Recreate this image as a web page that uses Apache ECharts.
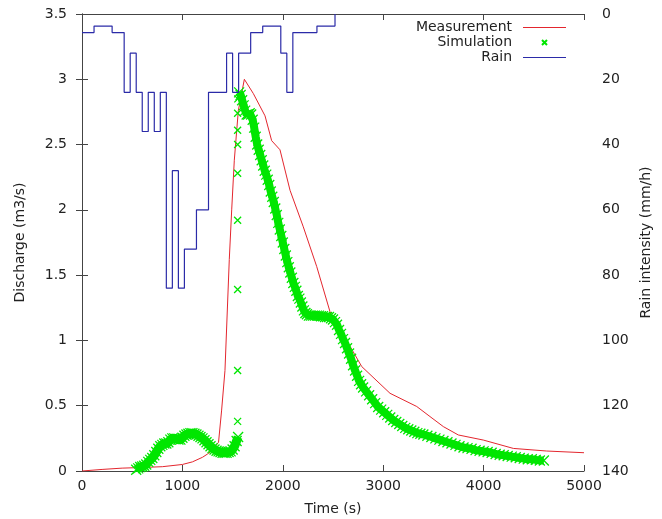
<!DOCTYPE html>
<html>
<head>
<meta charset="utf-8">
<script src="https://cdn.jsdelivr.net/npm/echarts@6/dist/echarts.min.js"></script>
<style>
  html, body { margin: 0; padding: 0; background: #fff; }
  #chart { width: 662px; height: 519px; }
</style>
</head>
<body>
<div id="chart"></div>
<script>
// measured discharge (m3/s)
var measTime = [0, 200, 400, 600, 800, 1000, 1100, 1200, 1250, 1300, 1360, 1390, 1424, 1467, 1491, 1517, 1557, 1617,
    1707, 1823, 1889, 1972, 2072, 2204, 2338, 2470, 2786, 3068, 3334, 3466, 3599, 3748, 3997, 4296, 4628, 5000];
var measFlow = [0, 0.012, 0.022, 0.027, 0.033, 0.05, 0.07, 0.105, 0.13, 0.16, 0.22, 0.46, 0.77, 1.62, 2.0, 2.38, 2.76, 3.0,
    2.89, 2.72, 2.53, 2.46, 2.15, 1.87, 1.565, 1.22, 0.80, 0.595, 0.494, 0.417, 0.34, 0.276, 0.237, 0.173, 0.153, 0.14];

// simulated discharge (m3/s), before the jump
var simEarlyTime = [540, 560, 580, 600, 620, 640, 660, 680, 700, 720, 740, 760, 780, 800, 820, 840, 860, 880, 900, 920,
    940, 960, 980, 1000, 1020, 1040, 1060, 1080, 1100, 1120, 1140, 1160, 1180, 1200, 1220, 1240, 1260, 1280, 1300,
    1320, 1340, 1360, 1380, 1400, 1420, 1440, 1460, 1480, 1500, 1520, 1540, 1555];
var simEarlyFlow = [0.01, 0.02, 0.03, 0.035, 0.04, 0.05, 0.07, 0.085, 0.10, 0.12, 0.145, 0.17, 0.19, 0.2, 0.21, 0.21,
    0.22, 0.24, 0.25, 0.25, 0.245, 0.24, 0.24, 0.255, 0.27, 0.28, 0.285, 0.29, 0.29, 0.285, 0.28, 0.27, 0.26, 0.25,
    0.235, 0.22, 0.205, 0.19, 0.175, 0.165, 0.155, 0.15, 0.145, 0.14, 0.14, 0.14, 0.145, 0.15, 0.165, 0.19, 0.23, 0.26];

// simulated discharge, isolated points of the jump
var simJumpTime = [1550, 1550, 1550, 1550, 1550, 1550, 1550, 1550, 1552];
var simJumpFlow = [0.38, 0.77, 1.39, 1.92, 2.28, 2.5, 2.61, 2.74, 2.85];

// simulated discharge, after the jump
var simLateTime = [1565, 1580, 1595, 1610, 1625, 1640, 1655, 1670, 1685, 1700, 1715, 1730, 1745, 1760, 1775, 1790,
    1805, 1820, 1835, 1850, 1865, 1880, 1895, 1910, 1925, 1940, 1955, 1970, 1985, 2000, 2015, 2030, 2045, 2060, 2075,
    2090, 2105, 2120, 2135, 2150, 2165, 2180, 2195, 2210, 2225, 2240, 2260, 2280, 2300, 2320, 2340, 2360, 2380, 2400,
    2420, 2440, 2460, 2480, 2500, 2520, 2540, 2560, 2580, 2600, 2620, 2640, 2660, 2680, 2700, 2720, 2740, 2760, 2780,
    2800, 2830, 2860, 2890, 2920, 2950, 2980, 3010, 3040, 3070, 3100, 3130, 3160, 3190, 3220, 3250, 3280, 3310, 3340,
    3370, 3400, 3440, 3480, 3520, 3560, 3600, 3640, 3680, 3720, 3760, 3800, 3840, 3880, 3920, 3960, 4000, 4040, 4080,
    4120, 4160, 4200, 4240, 4280, 4320, 4360, 4400, 4440, 4480, 4520, 4560, 4600];
var simLateFlow = [2.9, 2.88, 2.84, 2.8, 2.76, 2.73, 2.73, 2.74, 2.73, 2.69, 2.63, 2.56, 2.5, 2.46, 2.42, 2.38, 2.34,
    2.3, 2.27, 2.23, 2.19, 2.14, 2.1, 2.06, 2.01, 1.96, 1.9, 1.85, 1.8, 1.75, 1.7, 1.65, 1.6, 1.56, 1.52, 1.48, 1.44,
    1.41, 1.38, 1.34, 1.32, 1.29, 1.26, 1.23, 1.21, 1.2, 1.19, 1.19, 1.19, 1.19, 1.19, 1.19, 1.185, 1.185, 1.18, 1.18,
    1.18, 1.17, 1.16, 1.14, 1.12, 1.08, 1.05, 1.01, 0.98, 0.94, 0.9, 0.86, 0.81, 0.77, 0.73, 0.69, 0.665, 0.64, 0.61,
    0.58, 0.55, 0.52, 0.49, 0.47, 0.45, 0.43, 0.41, 0.39, 0.375, 0.36, 0.345, 0.33, 0.32, 0.31, 0.3, 0.29, 0.285, 0.28,
    0.27, 0.26, 0.25, 0.24, 0.23, 0.22, 0.21, 0.2, 0.19, 0.18, 0.175, 0.17, 0.16, 0.155, 0.15, 0.145, 0.14, 0.13, 0.125,
    0.12, 0.115, 0.11, 0.105, 0.1, 0.095, 0.09, 0.09, 0.085, 0.08, 0.08];

// rain intensity (mm/h), each value holds from its start time to the next one
var rainTime = [0, 120, 300, 420, 480, 540, 600, 660, 720, 780, 840, 900, 960, 1020, 1140, 1260, 1440, 1500, 1560,
    1680, 1800, 1980, 2040, 2100, 2340, 2520];
var rainValue = [5.7, 3.7, 5.7, 24, 12, 24, 36, 24, 36, 24, 84, 48, 84, 72, 60, 24, 12, 24, 12,
    5.7, 3.7, 12, 24, 5.7, 3.7, 0];

var fontName = 'DejaVu Sans';
var textColor = '#222';
var frameColor = '#444';
var measColor = '#e3262e';
var rainColor = '#2b2ba8';
var simColor = '#00e600';
var crossPath = 'path://M0,0L10,10M10,0L0,10';
// two distinct strings so the legend does not reuse one icon
var measIcon = 'path://M0,0L43,0L43,1L0,1Z';
var rainIcon = 'path://M0,0L44,0L44,1.2L0,1.2Z';

function pairs(xs, ys) {
    var out = [];
    for (var i = 0; i < xs.length; i++) out.push([xs[i], ys[i]]);
    return out;
}

// all simulation points for the crosses; the jump ones are drawn smaller
var simPoints = pairs(simEarlyTime, simEarlyFlow)
    .concat(pairs(simJumpTime, simJumpFlow))
    .concat(pairs(simLateTime, simLateFlow));
var jumpFrom = simEarlyTime.length;
var jumpTo = jumpFrom + simJumpTime.length;

var chart = echarts.init(document.getElementById('chart'), null, {renderer: 'canvas'});

var frameLine = {show: true, lineStyle: {color: frameColor, width: 1}};
var frameTick = {show: true, inside: true, length: 6, lineStyle: {color: frameColor}};
var axisFont = {fontFamily: fontName, fontSize: 14, color: textColor};

// thick band under the crosses (not in the legend)
function simBand(id, xs, ys, width) {
    return {
        name: id,
        type: 'line',
        xAxisIndex: 0,
        yAxisIndex: 0,
        symbol: 'none',
        z: 3,
        lineStyle: {color: simColor, width: width},
        data: pairs(xs, ys)
    };
}

var option = {
    animation: false,
    backgroundColor: '#fff',
    textStyle: {fontFamily: fontName},
    grid: {left: 82, right: 78, top: 14, bottom: 48, containLabel: false, outerBoundsMode: 'none'},
    legend: {
        orient: 'vertical',
        right: 96,
        top: 20,
        padding: 0,
        align: 'right',
        itemWidth: 43,
        itemHeight: 10,
        itemGap: 0,
        textStyle: {fontFamily: fontName, fontSize: 14, color: textColor, lineHeight: 15, padding: [0, 6, 0, 0]},
        data: [
            {name: 'Measurement', icon: measIcon},
            {name: 'Simulation', icon: 'path://M0,0M14,14M3.5,3.5L10.5,10.5M10.5,3.5L3.5,10.5'},
            {name: 'Rain', icon: rainIcon}
        ]
    },
    xAxis: [{
        type: 'value',
        min: 0, max: 5000, interval: 1000,
        name: 'Time (s)',
        nameLocation: 'middle',
        nameGap: 31,
        nameTextStyle: axisFont,
        axisLine: frameLine,
        axisTick: frameTick,
        axisLabel: {fontFamily: fontName, fontSize: 14, color: textColor, margin: 8,
            formatter: function (v) { return String(v); }},
        splitLine: {show: false}
    }, {
        type: 'value',
        position: 'top',
        min: 0, max: 5000, interval: 1000,
        axisLine: frameLine,
        axisTick: frameTick,
        axisLabel: {show: false},
        splitLine: {show: false}
    }],
    yAxis: [{
        type: 'value',
        min: 0, max: 3.5, interval: 0.5,
        name: 'Discharge (m3/s)',
        nameLocation: 'middle',
        nameGap: 55,
        nameTextStyle: axisFont,
        axisLine: frameLine,
        axisTick: frameTick,
        axisLabel: {fontFamily: fontName, fontSize: 14, color: textColor, margin: 15},
        splitLine: {show: false}
    }, {
        type: 'value',
        position: 'right',
        inverse: true,
        min: 0, max: 140, interval: 20,
        name: 'Rain intensity (mm/h)',
        nameLocation: 'middle',
        nameGap: 52,
        nameTextStyle: axisFont,
        axisLine: frameLine,
        axisTick: frameTick,
        axisLabel: {fontFamily: fontName, fontSize: 14, color: textColor, margin: 18},
        splitLine: {show: false}
    }],
    series: [{
        name: 'Measurement',
        type: 'line',
        xAxisIndex: 0,
        yAxisIndex: 0,
        symbol: 'none',
        z: 2,
        lineStyle: {color: measColor, width: 1},
        itemStyle: {color: measColor},
        data: pairs(measTime, measFlow)
    }, {
        name: 'Simulation',
        type: 'scatter',
        xAxisIndex: 0,
        yAxisIndex: 0,
        symbol: crossPath,
        symbolSize: function (v, p) {
            return (p.dataIndex >= jumpFrom && p.dataIndex < jumpTo) ? 7 : 10;
        },
        z: 4,
        itemStyle: {color: simColor, borderColor: simColor, borderWidth: 1.3, opacity: 1},
        data: simPoints
    }, {
        name: 'Rain',
        type: 'line',
        xAxisIndex: 0,
        yAxisIndex: 1,
        step: 'end',
        symbol: 'none',
        z: 5,
        lineStyle: {color: rainColor, width: 1.2},
        itemStyle: {color: rainColor},
        data: pairs(rainTime, rainValue)
    },
    simBand('simBandEarly', simEarlyTime, simEarlyFlow, 9),
    simBand('simBandLate', simLateTime, simLateFlow, 8)
    ]
};

chart.setOption(option);
</script>
</body>
</html>
